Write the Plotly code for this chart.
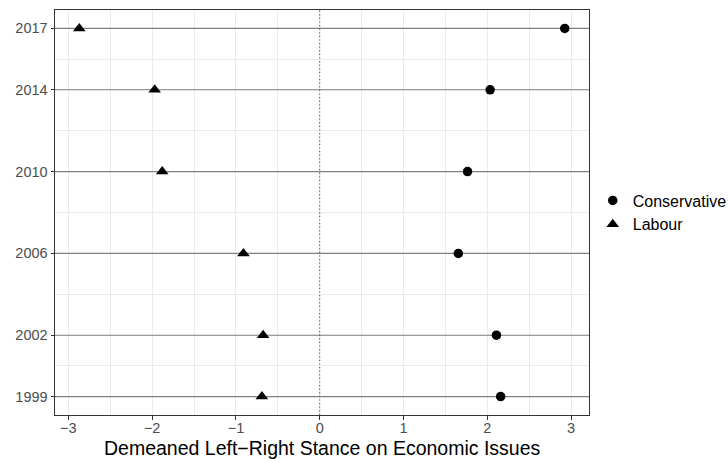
import plotly.graph_objects as go

years = [1999, 2002, 2006, 2010, 2014, 2017]
conservative = [2.16, 2.11, 1.655, 1.765, 2.035, 2.925]
labour = [-0.69, -0.675, -0.91, -1.88, -1.97, -2.87]
x_ticks = [-3, -2, -1, 0, 1, 2, 3]
x_title = "Demeaned Left\u2212Right Stance on Economic Issues"

all_x = conservative + labour
xmin, xmax = min(all_x), max(all_x)
xpad = (xmax - xmin) * 0.05
xr = [xmin - xpad, xmax + xpad]
ymin, ymax = min(years), max(years)
ypad = (ymax - ymin) * 0.05
yr = [ymin - ypad, ymax + ypad]
y_minor = [(a + b) / 2 for a, b in zip(years[:-1], years[1:])]

fig = go.Figure()

# horizontal reference lines at each election year
for yv in years:
    fig.add_trace(go.Scatter(x=xr, y=[yv, yv], mode="lines", showlegend=False,
                             hoverinfo="skip", line=dict(color="#808080", width=1.2)))
# dotted vertical line at zero
fig.add_trace(go.Scatter(x=[0, 0], y=yr, mode="lines", showlegend=False, hoverinfo="skip",
                         line=dict(color="#555555", width=1.1, dash="1.2px,2.4px")))

fig.add_trace(go.Scatter(x=conservative, y=years, mode="markers", name="Conservative",
                         marker=dict(symbol="circle", size=9.5, color="black")))
fig.add_trace(go.Scatter(x=labour, y=years, mode="markers", name="Labour",
                         marker=dict(symbol="triangle-up", size=11, color="black")))

fig.add_annotation(text=x_title, xref="paper", yref="paper", x=0.5, y=0,
                   xanchor="center", yanchor="middle", yshift=-33, showarrow=False,
                   font=dict(size=19.5, color="black"))

fig.update_layout(
    width=728, height=459,
    margin=dict(l=55, r=139, t=10, b=44, autoexpand=False),
    plot_bgcolor="white", paper_bgcolor="white",
    font=dict(family="Liberation Sans, Arial, sans-serif", color="black"),
    showlegend=True,
    legend=dict(x=1.007, xanchor="left", y=0.5, yanchor="middle",
                font=dict(size=16, color="black"), itemwidth=30,
                tracegroupgap=0, bgcolor="rgba(0,0,0,0)"),
    xaxis=dict(range=xr, tickmode="array", tickvals=x_ticks,
               ticktext=[("\u2212" + str(-t)) if t < 0 else str(t) for t in x_ticks],
               showgrid=True, gridcolor="#EBEBEB", gridwidth=1,
               minor=dict(dtick=0.5, showgrid=True, gridcolor="#EBEBEB", gridwidth=0.6),
               ticks="outside", ticklen=3.5, tickcolor="#333333", tickwidth=1,
               ticklabelstandoff=-4,
               tickfont=dict(size=14.5, color="#4D4D4D"),
               showline=True, linecolor="#333333", linewidth=1, mirror=True,
               zeroline=False),
    yaxis=dict(range=yr, tickmode="array", tickvals=years,
               ticktext=[str(y) for y in years],
               showgrid=True, gridcolor="#EBEBEB", gridwidth=1,
               minor=dict(tickmode="array", tickvals=y_minor, showgrid=True,
                          gridcolor="#EBEBEB", gridwidth=0.6),
               ticks="outside", ticklen=3.5, tickcolor="#333333", tickwidth=1,
               tickfont=dict(size=14.5, color="#4D4D4D"),
               showline=True, linecolor="#333333", linewidth=1, mirror=True,
               zeroline=False),
)

fig.write_html("out.html")
